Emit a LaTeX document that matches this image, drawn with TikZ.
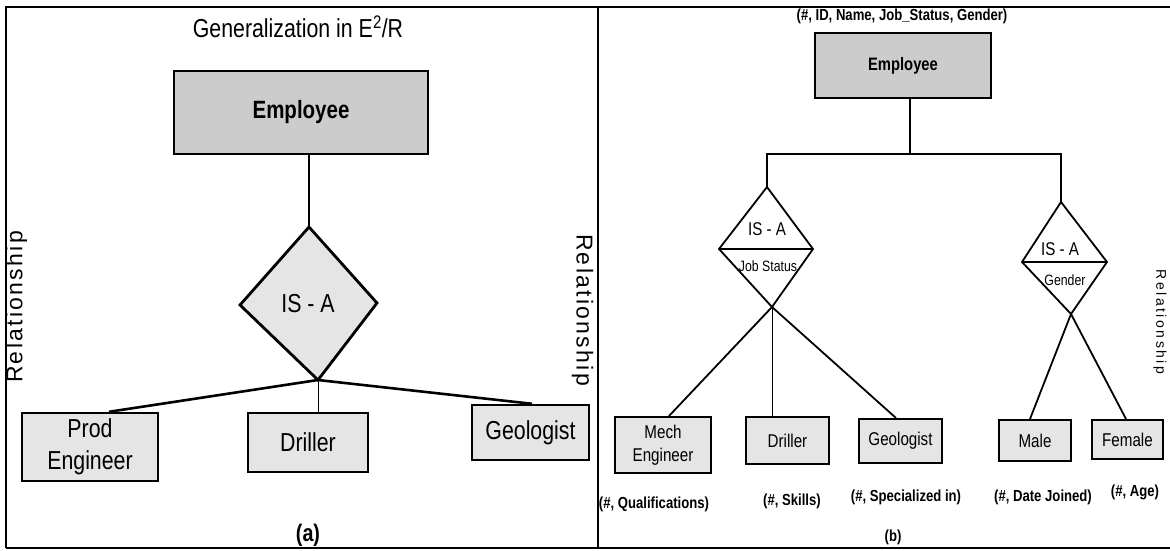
\documentclass[tikz,border=0pt]{standalone}
\usepackage{fontspec}
\setmainfont{Liberation Sans}
\newfontfamily\nar[FakeStretch=0.82]{Liberation Sans}
\newfontfamily\relA[LetterSpace=10]{Liberation Sans}
\newfontfamily\relB[LetterSpace=18]{Liberation Sans}
\newcommand\fsTitle{\nar\fontsize{26}{30}\selectfont}
\newcommand\fsA{\nar\fontsize{26}{32}\selectfont}
\newcommand\fsAb{\nar\bfseries\fontsize{25}{30}\selectfont}
\newcommand\fsB{\nar\fontsize{18.5}{23}\selectfont}
\newcommand\fsBb{\nar\bfseries\fontsize{18}{22}\selectfont}
\newcommand\fsC{\nar\fontsize{15}{18}\selectfont}
\newcommand\fsD{\nar\bfseries\fontsize{16}{19}\selectfont}
\begin{document}
\begin{tikzpicture}[x=1pt,y=-1pt,
  frame/.style={line width=2.7pt},
  boxA/.style={draw, line width=2.4pt, inner sep=0pt, align=center, font=\fsA},
  boxB/.style={draw, line width=2pt, inner sep=0pt, align=center, font=\fsB},
  parentfill/.style={fill=black!20},
  childfill/.style={fill=black!10},
  conA/.style={line width=2.6pt},
  conB/.style={line width=1.8pt},
  thinline/.style={line width=0.9pt},
  lbl/.style={inner sep=0pt, align=center}
]
\useasboundingbox (0,0) rectangle (1170,551);
% frame
\draw[frame] (6,548) -- (6,7) -- (1170,7);
\draw[frame] (6,548) -- (1170,548);
\draw[frame] (598,7) -- (598,548);

% ---------- panel (a) ----------
\node[lbl, font=\fsTitle] (titleA) at (298,27) {Generalization in E\textsuperscript{2}/R};
\node[boxA, parentfill, font=\fsAb, minimum width=254pt, minimum height=83pt] (empA) at (301,112.5) {Employee};
\coordinate (dAt) at (309,227);
\coordinate (dAr) at (377,303);
\coordinate (dAb) at (318,380);
\coordinate (dAl) at (240,305);
\draw[line width=2.2pt] (empA.south -| dAt) -- (dAt);
\draw[line width=2.8pt, childfill, line join=miter] (dAt) -- (dAr) -- (dAb) -- (dAl) -- cycle;
\node[lbl, font=\fsA] (isaA) at (308,304) {IS - A};
\node[boxA, childfill, minimum width=136pt, minimum height=68pt] (prodA) at (90,447) {Prod\\Engineer};
\node[boxA, childfill, minimum width=120pt, minimum height=59pt] (drA) at (308,442.5) {Driller};
\node[boxA, childfill, minimum width=117pt, minimum height=55pt] (geoA) at (530.5,432.5) {Geologist};
\draw[conA] (dAb) -- ([xshift=19pt]prodA.north);
\draw[conA] (dAb) -- ([xshift=1.5pt]geoA.north);
\draw[thinline] (dAb) -- (dAb |- drA.north);
\node[lbl, font=\nar\bfseries\fontsize{24}{28}\selectfont] (capA) at (308,535) {(a)};
\node[rotate=90, font=\relA\fontsize{23}{27}\selectfont] (relL) at (16.5,307) {Relationship};
\node[rotate=-90, font=\relA\fontsize{23}{27}\selectfont] (relM) at (582.5,310) {Relationship};

% ---------- panel (b) ----------
\node[lbl, font=\fsD] (attrEmp) at (902,16) {(\#, ID, Name, Job\_Status, Gender)};
\node[boxB, parentfill, font=\fsBb, minimum width=176pt, minimum height=65pt] (empB) at (903,65.5) {Employee};
\coordinate (jB) at (910,154);
\coordinate (T1) at (767,187);
\coordinate (R1) at (813,249);
\coordinate (B1) at (772,307);
\coordinate (L1) at (719,249);
\coordinate (T2) at (1061,202);
\coordinate (R2) at (1107,262);
\coordinate (B2) at (1071,314);
\coordinate (L2) at (1022,262);
\draw[line width=2pt] (empB.south -| jB) -- (jB);
\draw[line width=2pt] (T1) -- (T1 |- jB) -- (T2 |- jB) -- (T2);
\draw[line width=1.8pt, fill=white, line join=miter] (T1) -- (R1) -- (B1) -- (L1) -- cycle;
\draw[line width=2.2pt] (L1) -- (R1);
\draw[line width=1.8pt, fill=white, line join=miter] (T2) -- (R2) -- (B2) -- (L2) -- cycle;
\draw[line width=2.2pt] (L2) -- (R2);
\node[lbl, font=\fsB] (isaB1) at (767,229) {IS - A};
\node[lbl, font=\fsC] (jobst) at (768,266) {Job Status};
\node[lbl, font=\fsB] (isaB2) at (1060,249) {IS - A};
\node[lbl, font=\fsC] (gend) at (1065,280) {Gender};

\node[boxB, childfill, minimum width=96pt, minimum height=56pt] (mech) at (663,445) {Mech\\Engineer};
\node[boxB, childfill, minimum width=83pt, minimum height=47pt] (drB) at (787.5,440.5) {Driller};
\node[boxB, childfill, minimum width=83pt, minimum height=44pt] (geoB) at (900.5,441) {Geologist};
\node[boxB, childfill, minimum width=72pt, minimum height=41pt] (male) at (1035,440.5) {Male};
\node[boxB, childfill, minimum width=71pt, minimum height=39pt] (female) at (1127.5,439.5) {Female};

\draw[conB] (B1) -- ([xshift=6pt]mech.north);
\draw[conB] (B1) -- ([xshift=-4.5pt]geoB.north);
\draw[thinline] (B1) -- (B1 |- drB.north);
\draw[conB] (B2) -- ([xshift=-5pt]male.north);
\draw[conB] (B2) -- ([xshift=-1.5pt]female.north);

\node[lbl, font=\fsD] (attQ) at (654,504) {(\#, Qualifications)};
\node[lbl, font=\fsD] (attS) at (792,501) {(\#, Skills)};
\node[lbl, font=\fsD] (attSp) at (906,497) {(\#, Specialized in)};
\node[lbl, font=\fsD] (attD) at (1043,497) {(\#, Date Joined)};
\node[lbl, font=\fsD] (attAge) at (1135,492) {(\#, Age)};
\node[lbl, font=\fsD] (capB) at (893,537) {(b)};
\node[rotate=-90, font=\relB\fontsize{14}{17}\selectfont] (relR) at (1160,322) {Relationship};
\end{tikzpicture}
\end{document}
